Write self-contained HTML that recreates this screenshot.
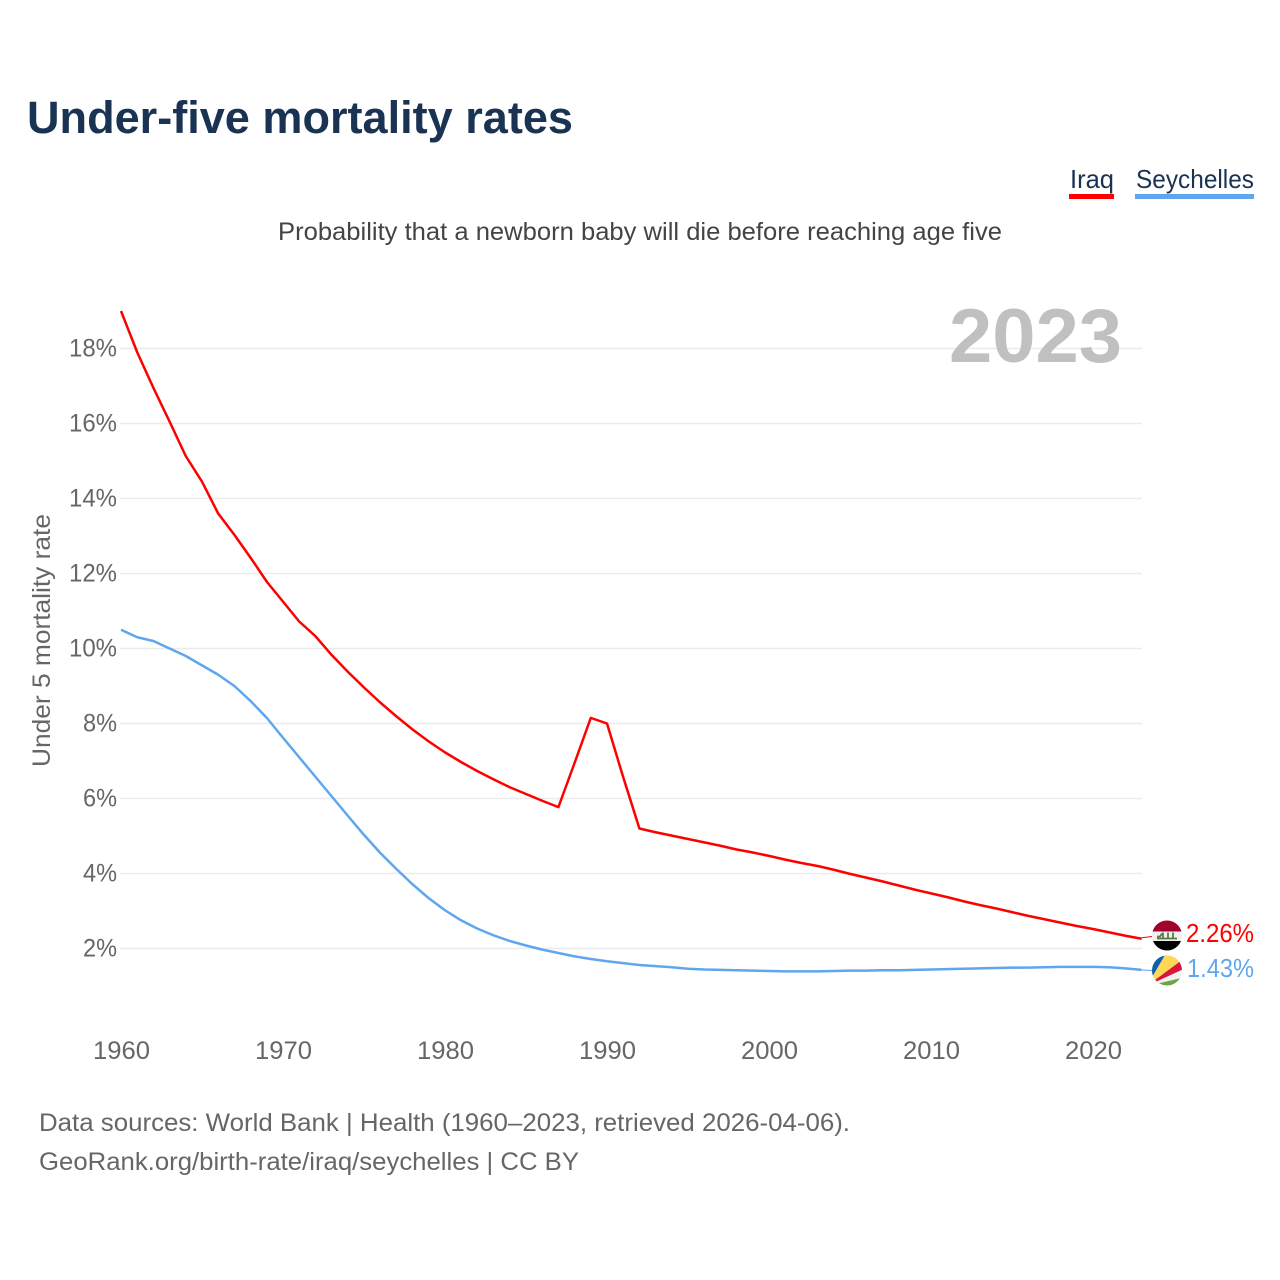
<!DOCTYPE html>
<html lang="en">
<head>
<meta charset="utf-8">
<title>Under-five mortality rates</title>
<style>
html,body{margin:0;padding:0;background:#fff;}
svg{display:block;font-family:"Liberation Sans",sans-serif;}
</style>
</head>
<body>
<svg id="chart" width="1280" height="1280" viewBox="0 0 1280 1280" xmlns="http://www.w3.org/2000/svg">
  <rect x="0" y="0" width="1280" height="1280" fill="#ffffff"/>
  <text x="27" y="133" font-size="45" font-weight="700" fill="#1a3352" textLength="546" lengthAdjust="spacingAndGlyphs">Under-five mortality rates</text>
  <g>
    <g>
      <text x="1070" y="188" font-size="26" fill="#1a3352" textLength="44" lengthAdjust="spacingAndGlyphs">Iraq</text>
      <rect x="1069" y="194" width="45" height="5" fill="#ff0000"/>
    </g>
    <g>
      <text x="1136" y="188" font-size="26" fill="#1a3352" textLength="118" lengthAdjust="spacingAndGlyphs">Seychelles</text>
      <rect x="1135" y="194" width="119" height="5" fill="#5fa6ee"/>
    </g>
  </g>
  <text x="278" y="240" font-size="25" fill="#444444" textLength="724" lengthAdjust="spacingAndGlyphs">Probability that a newborn baby will die before reaching age five</text>
  <g id="grid"></g>
  <g id="yticks"></g>
  <g id="xticks"></g>
  <text transform="translate(50,767) rotate(-90)" font-size="25" fill="#666666" textLength="253" lengthAdjust="spacingAndGlyphs">Under 5 mortality rate</text>
  <text x="949" y="362" font-size="76" font-weight="700" fill="#c0c0c0" textLength="173" lengthAdjust="spacingAndGlyphs">2023</text>
  <g id="lines"></g>
  <defs>
    <clipPath id="clip-iraq"><circle cx="1167" cy="935.5" r="15"/></clipPath>
    <clipPath id="clip-sey"><circle cx="1167" cy="970.5" r="15"/></clipPath>
  </defs>
  <g clip-path="url(#clip-iraq)">
    <rect x="1152" y="920" width="30" height="11.500" fill="#a0042c"/>
    <rect x="1152" y="931.500" width="30" height="9.500" fill="#f0f0f0"/>
    <rect x="1152" y="941" width="30" height="10" fill="#000000"/>
    <path d="M1157 938.500h20M1158 938.500v-2h3M1163 938.500v-6M1168 938.500v-6M1173 938.500v-6M1160 936.500l2-3" fill="none" stroke="#5b7a45" stroke-width="1.800"/>
  </g>
  <g clip-path="url(#clip-sey)">
    <rect x="1150" y="953" width="35" height="35" fill="#f0f0f0"/>
    <polygon points="1147,986 1147,950 1168,950" fill="#0d5eaf"/>
    <polygon points="1147,986 1168,950 1190,950 1190,954" fill="#fcd856"/>
    <polygon points="1147,986 1190,954 1190,966" fill="#d8153b"/>
    <polygon points="1147,986 1190,976 1190,990 1147,990" fill="#6da544"/>
  </g>
  <text id="label-iraq" x="1186" y="942" font-size="26" fill="#ff0000" textLength="68" lengthAdjust="spacingAndGlyphs"></text>
  <text id="label-sey" x="1187" y="977" font-size="26" fill="#5fa6ee" textLength="67" lengthAdjust="spacingAndGlyphs"></text>
  <text x="39" y="1131" font-size="25" fill="#666666" textLength="811" lengthAdjust="spacingAndGlyphs">Data sources: World Bank | Health (1960–2023, retrieved 2026-04-06).</text>
  <text x="39" y="1170" font-size="25" fill="#666666" textLength="540" lengthAdjust="spacingAndGlyphs">GeoRank.org/birth-rate/iraq/seychelles | CC BY</text>
</svg>
<script>
const startYear = 1960;
const xTickLabels = [1960, 1970, 1980, 1990, 2000, 2010, 2020];
const yTickLabels = [2, 4, 6, 8, 10, 12, 14, 16, 18];
const iraqValues = [19.0,17.9,16.95,16.05,15.13,14.45,13.6,13.03,12.42,11.78,11.25,10.72,10.33,9.83,9.38,8.96,8.56,8.19,7.84,7.52,7.23,6.97,6.73,6.51,6.3,6.12,5.94,5.77,6.95,8.15,8.0,6.57,5.2,5.1,5.01,4.92,4.83,4.74,4.64,4.56,4.47,4.37,4.28,4.2,4.1,3.99,3.89,3.79,3.68,3.57,3.47,3.37,3.26,3.16,3.07,2.97,2.87,2.78,2.69,2.6,2.52,2.43,2.34,2.26];
const seychellesValues = [10.5,10.3,10.2,10.0,9.8,9.55,9.3,9.0,8.6,8.15,7.62,7.1,6.58,6.06,5.54,5.03,4.55,4.12,3.71,3.34,3.02,2.75,2.53,2.35,2.2,2.08,1.97,1.88,1.79,1.72,1.66,1.61,1.56,1.53,1.5,1.46,1.44,1.43,1.42,1.41,1.4,1.39,1.39,1.39,1.4,1.41,1.41,1.42,1.42,1.43,1.44,1.45,1.46,1.47,1.48,1.49,1.49,1.5,1.51,1.51,1.51,1.5,1.47,1.43];

const NS = 'http://www.w3.org/2000/svg';
function xScale(year) { return 121 + (year - 1960) * 16.2; }
function yScale(value) { return 1023.5 - value * 37.5; }
function make(tag, attrs, parent) {
  const el = document.createElementNS(NS, tag);
  for (const k in attrs) el.setAttribute(k, attrs[k]);
  parent.appendChild(el);
  return el;
}
function linePath(values) {
  return values.map(function (v, i) {
    return (i ? 'L' : 'M') + xScale(startYear + i).toFixed(2) + ' ' + yScale(v).toFixed(2);
  }).join('');
}

const grid = document.getElementById('grid');
const yticks = document.getElementById('yticks');
const xticks = document.getElementById('xticks');
const lines = document.getElementById('lines');

yTickLabels.forEach(function (t) {
  const g = make('line', {x1: 120, x2: 1142, y1: yScale(t), y2: yScale(t), stroke: '#ebebeb', 'stroke-width': 1.5}, grid);
  
  
  const l = make('text', {x: 117, y: yScale(t) + 8, 'text-anchor': 'end', 'font-size': 25, fill: '#666666', textLength: t >= 10 ? 48 : 34, lengthAdjust: 'spacingAndGlyphs'}, yticks);
  
  
  l.textContent = t + '%';
});

xTickLabels.forEach(function (t) {
  const l = make('text', {x: xScale(t) - 28, y: 1059, 'font-size': 25, fill: '#666666', textLength: 57, lengthAdjust: 'spacingAndGlyphs'}, xticks);
  
  
  l.textContent = t;
});

const seyLine = make('path', {d: linePath(seychellesValues), fill: 'none', stroke: '#5fa6ee', 'stroke-width': 2.5, 'stroke-linejoin': 'round'}, lines);


const iraqLine = make('path', {d: linePath(iraqValues), fill: 'none', stroke: '#ff0000', 'stroke-width': 2.5, 'stroke-linejoin': 'round'}, lines);



const lastIraq = iraqValues[iraqValues.length - 1];
const lastSey = seychellesValues[seychellesValues.length - 1];
const iraqLead = make('line', {x1: xScale(2023), y1: yScale(lastIraq) - 1, x2: 1152, y2: 936.5, stroke: '#ff0000', 'stroke-width': 1}, lines);


const seyLead = make('line', {x1: xScale(2023), y1: yScale(lastSey), x2: 1152, y2: 970.5, stroke: '#5fa6ee', 'stroke-width': 1}, lines);



document.getElementById('label-iraq').textContent = lastIraq.toFixed(2) + '%';
document.getElementById('label-sey').textContent = lastSey.toFixed(2) + '%';
</script>
</body>
</html>
